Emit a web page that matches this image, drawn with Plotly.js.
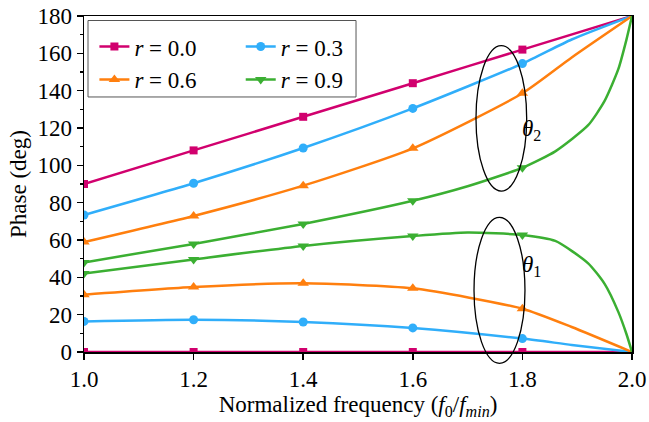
<!DOCTYPE html>
<html>
<head>
<meta charset="utf-8">
<script src="https://cdn.plot.ly/plotly-3.0.1.min.js"></script>
<style>
  /* all chart text in Times-style serif */
  #chart svg text { font-family: "Liberation Serif", "Times New Roman", serif !important; }
</style>
</head>
<body style="margin:0">
<div id="chart" style="width:649px;height:422px"></div>
<script>
// Frequencies where the computed points are marked
const freq = [1.0, 1.2, 1.4, 1.6, 1.8];

// Marked phase values (deg) for each reflection coefficient r
const theta2_r00 = [90, 108, 126, 144, 162];
const theta1_r00 = [0, 0, 0, 0, 0];
const theta2_r03 = [73.4, 90.4, 109.3, 130.5, 154.5];
const theta1_r03 = [16.4, 17.3, 16.1, 12.9, 7.2];
const theta2_r06 = [58.9, 72.9, 89.1, 109.1, 138.6];
const theta1_r06 = [30.7, 34.8, 36.8, 34.1, 23.2];
const theta2_r09 = [48.0, 57.9, 68.6, 81.0, 98.7];
const theta1_r09 = [42.1, 49.6, 56.8, 62.1, 62.7];

// Continuous curves (marked points plus intermediate samples up to f0/fmin = 2)
const curveX_lin = [1.0, 1.2, 1.4, 1.6, 1.8, 2.0];
const curve2_r00 = [90, 108, 126, 144, 162, 180];
const curve1_r00 = [0, 0, 0, 0, 0, 0];

const curveX_mid = [1.0, 1.2, 1.4, 1.6, 1.8, 1.89, 2.0];
const curve2_r03 = [73.4, 90.4, 109.3, 130.5, 154.5, 167.4, 180];
const curve1_r03 = [16.4, 17.3, 16.1, 12.9, 7.2, 3.8, 0];
const curve2_r06 = [58.9, 72.9, 89.1, 109.1, 138.6, 157.8, 180];
const curve1_r06 = [30.7, 34.8, 36.8, 34.1, 23.2, 13.4, 0];

const curveX_r09 = [1.0, 1.2, 1.4, 1.6, 1.7, 1.8, 1.86, 1.92, 1.95, 1.975, 1.99, 2.0];
const curve2_r09 = [48.0, 57.9, 68.6, 81.0, 88.8, 98.7, 107.5, 121.5, 134.5, 151.5, 167.5, 180];
const curve1_r09 = [42.1, 49.6, 56.8, 62.1, 64.0, 62.7, 59.5, 47.5, 36.5, 21.5, 9.5, 0];

const labels = ['<i>r</i> = 0.0', '<i>r</i> = 0.3', '<i>r</i> = 0.6', '<i>r</i> = 0.9'];
const colors = ['#D1006E', '#30AEFA', '#FF7F0E', '#3BAF32'];
const symbols = ['square', 'circle', 'triangle-up', 'triangle-down'];
const msize = [8, 9, 10, 10];

const series = [
  { cx: curveX_lin, c2: curve2_r00, c1: curve1_r00, m2: theta2_r00, m1: theta1_r00 },
  { cx: curveX_mid, c2: curve2_r03, c1: curve1_r03, m2: theta2_r03, m1: theta1_r03 },
  { cx: curveX_mid, c2: curve2_r06, c1: curve1_r06, m2: theta2_r06, m1: theta1_r06 },
  { cx: curveX_r09, c2: curve2_r09, c1: curve1_r09, m2: theta2_r09, m1: theta1_r09 }
];

const traces = [];
series.forEach((s, i) => {
  const line = { color: colors[i], width: 2.5 };
  const marker = { symbol: symbols[i], size: msize[i], color: colors[i] };
  [s.c2, s.c1].forEach(cy => {
    traces.push({
      x: s.cx, y: cy, type: 'scatter', mode: 'lines',
      line: Object.assign({ shape: 'spline', smoothing: 0.6 }, line),
      showlegend: false, hoverinfo: 'skip'
    });
  });
  [s.m2, s.m1].forEach(my => {
    traces.push({
      x: freq, y: my, type: 'scatter', mode: 'markers',
      marker: marker, showlegend: false
    });
  });
});

// Legend entries: two columns, r = 0.0 / 0.6 on the left, r = 0.3 / 0.9 on the right
[0, 2, 1, 3].forEach(i => {
  traces.push({
    x: [null], y: [null], type: 'scatter', mode: 'lines+markers',
    name: labels[i],
    line: { color: colors[i], width: 2.5 },
    marker: { symbol: symbols[i], size: msize[i], color: colors[i] },
    legend: (i === 0 || i === 2) ? 'legend' : 'legend2'
  });
});

const FAMILY = 'Liberation Serif';
const fs = 23;
const tfont = () => ({ family: FAMILY, size: fs, color: '#000' });

const legendCommon = {
  font: tfont(),
  bgcolor: 'rgba(0,0,0,0)', borderwidth: 0,
  yanchor: 'top', xanchor: 'left', tracegroupgap: 0,
  traceorder: 'normal', itemwidth: 30
};

const layout = {
  width: 649, height: 422,
  margin: { l: 84, r: 17, t: 16, b: 70 },
  paper_bgcolor: '#fff', plot_bgcolor: '#fff',
  font: tfont(),
  xaxis: {
    range: [1.0, 2.0], tick0: 1.0, dtick: 0.2, tickformat: '.1f',
    ticks: 'outside', ticklen: 6, tickwidth: 1.5, tickcolor: '#000',
    showline: true, linewidth: 1.5, linecolor: '#000', mirror: true,
    showgrid: false, zeroline: false,
    tickfont: tfont(),
    title: { text: 'Normalized frequency (<i>f</i><sub>0</sub>/<i>f</i><sub><i>min</i></sub>)',
             font: tfont(), standoff: 4 }
  },
  yaxis: {
    range: [0, 180], tick0: 0, dtick: 20,
    ticks: 'outside', ticklen: 6, tickwidth: 1.5, tickcolor: '#000',
    minor: { dtick: 10, ticks: 'outside', ticklen: 3, tickwidth: 1.5, tickcolor: '#000' },
    showline: true, linewidth: 1.5, linecolor: '#000', mirror: true,
    showgrid: false, zeroline: false,
    tickfont: tfont(),
    title: { text: 'Phase (deg)', font: tfont(), standoff: 4 }
  },
  legend: Object.assign({ x: 0.019, y: 0.973 }, legendCommon),
  legend2: Object.assign({ x: 0.286, y: 0.973 }, legendCommon),
  shapes: [
    // legend frame
    { type: 'rect', xref: 'paper', yref: 'paper', x0: 0.0073, x1: 0.4964, y0: 0.759, y1: 0.9866,
      line: { color: '#555', width: 1 } },
    // θ2 group outline
    { type: 'circle', xref: 'paper', yref: 'paper', x0: 0.7153, x1: 0.8078, y0: 0.479, y1: 0.9116,
      line: { color: '#000', width: 1.3 } },
    // θ1 group outline
    { type: 'circle', xref: 'paper', yref: 'paper', x0: 0.7117, x1: 0.8047, y0: -0.0336, y1: 0.4009,
      line: { color: '#000', width: 1.3 } }
  ],
  annotations: [
    { xref: 'paper', yref: 'paper', x: 0.8376, y: 0.661, showarrow: false,
      text: '<i>θ</i><sub>2</sub>', font: tfont() },
    { xref: 'paper', yref: 'paper', x: 0.8376, y: 0.208, showarrow: false,
      text: '<i>θ</i><sub>1</sub>', font: tfont() }
  ]
};

Plotly.newPlot('chart', traces, layout, { displayModeBar: false, staticPlot: true });
</script>
</body>
</html>
